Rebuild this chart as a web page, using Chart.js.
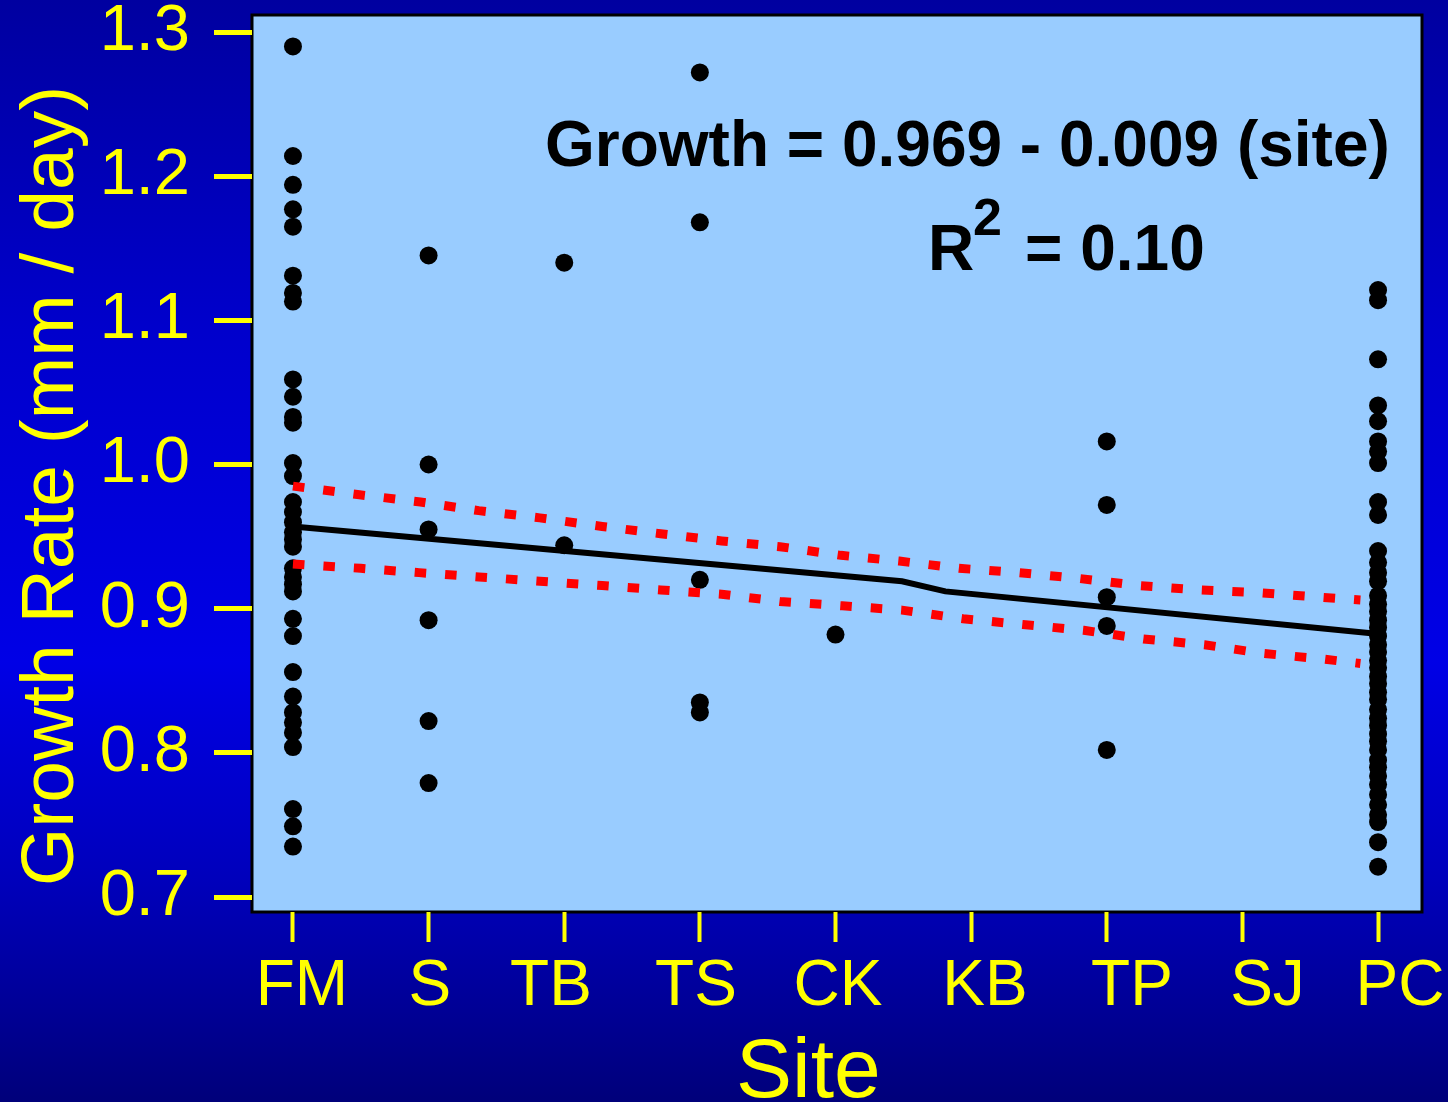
<!DOCTYPE html>
<html>
<head>
<meta charset="utf-8">
<script src="https://cdn.jsdelivr.net/npm/chart.js@4/dist/chart.umd.min.js"></script>
<style>
  body { margin: 0; background: #000090; }
  canvas { display: block; }
</style>
</head>
<body>
<canvas id="growthChart" width="1448" height="1102"></canvas>
<script>
// sites along the x axis, left to right
const sites = ["FM", "S", "TB", "TS", "CK", "KB", "TP", "SJ", "PC"];
const yTicks = [0.7, 0.8, 0.9, 1.0, 1.1, 1.2, 1.3];

// growth rates (mm / day) read per site
const growthFM = [1.290, 1.214, 1.194, 1.177, 1.165, 1.131, 1.119, 1.113, 1.059, 1.047, 1.033, 1.029,
  1.001, 0.992, 0.974, 0.967, 0.960, 0.953, 0.948, 0.943, 0.928, 0.922, 0.917, 0.912,
  0.893, 0.881, 0.856, 0.839, 0.828, 0.821, 0.814, 0.804, 0.761, 0.749, 0.735];
const growthS = [1.145, 1.000, 0.955, 0.892, 0.822, 0.779];
const growthTB = [1.140, 0.944];
const growthTS = [1.272, 1.168, 0.920, 0.835, 0.828];
const growthCK = [0.882];
const growthKB = [];
const growthTP = [1.016, 0.972, 0.908, 0.888, 0.802];
const growthSJ = [];
const growthPC = [1.121, 1.114, 1.073, 1.041, 1.030, 1.016, 1.009, 1.001, 0.974, 0.965, 0.940, 0.932,
  0.925, 0.919, 0.909, 0.903, 0.898, 0.892, 0.887, 0.881, 0.875, 0.870, 0.864, 0.859, 0.853,
  0.848, 0.842, 0.837, 0.830, 0.824, 0.819, 0.813, 0.808, 0.802, 0.795, 0.790, 0.784, 0.778,
  0.771, 0.764, 0.757, 0.752, 0.738, 0.721];

// fitted line and confidence band (x in site units)
const fitX = [0, 4.49, 4.81, 7.95];
const fitY = [0.957, 0.919, 0.912, 0.883];
const upperX = [0, 0.49, 0.94, 1.37, 1.82, 2.28, 2.71, 3.16, 3.59, 4.04, 4.47, 4.91, 5.35, 5.79, 6.24, 6.68, 7.13, 7.57, 7.87];
const upperY = [0.985, 0.979, 0.974, 0.968, 0.963, 0.957, 0.952, 0.947, 0.943, 0.937, 0.933, 0.928, 0.925, 0.921, 0.916, 0.913, 0.911, 0.908, 0.906];
const lowerX = [0, 0.5, 0.93, 1.37, 1.82, 2.28, 2.71, 3.16, 3.59, 4.05, 4.49, 4.94, 5.38, 5.83, 6.27, 6.72, 7.15, 7.6, 7.87];
const lowerY = [0.931, 0.928, 0.925, 0.922, 0.919, 0.916, 0.913, 0.910, 0.905, 0.902, 0.899, 0.893, 0.889, 0.885, 0.879, 0.875, 0.869, 0.865, 0.862];

const equationText = "Growth = 0.969 - 0.009 (site)";

// where the site names sit (slightly off the tick marks, like the slide)
const labelAt = [0.066, 1.009, 1.902, 2.971, 4.018, 5.102, 6.186, 7.185, 8.162];

const FONT = "'Liberation Sans', Arial, sans-serif";
const YELLOW = "#FFFF00";

const allGrowth = [growthFM, growthS, growthTB, growthTS, growthCK, growthKB, growthTP, growthSJ, growthPC];
const points = [];
allGrowth.forEach((arr, i) => arr.forEach(v => points.push({ x: i, y: v })));

const toXY = (xs, ys) => xs.map((x, i) => ({ x: x, y: ys[i] }));

// no label overflow padding, the chart area is placed by hand
const noOverflow = s => {
  s.paddingTop = 0; s.paddingBottom = 0; s.paddingLeft = 0; s.paddingRight = 0;
};

const slideBackground = {
  id: "slideBackground",
  beforeDraw(chart) {
    const { ctx, width, height, chartArea: a } = chart;
    ctx.save();
    const g = ctx.createLinearGradient(0, 0, 0, height);
    g.addColorStop(0, "#0000A0");
    g.addColorStop(0.3, "#0000CC");
    g.addColorStop(0.6, "#0000E6");
    g.addColorStop(0.8, "#0000BB");
    g.addColorStop(1, "#00007A");
    ctx.fillStyle = g;
    ctx.fillRect(0, 0, width, height);
    ctx.fillStyle = "#99CCFF";
    ctx.fillRect(a.left, a.top, a.right - a.left, a.bottom - a.top);
    ctx.lineWidth = 3;
    ctx.strokeStyle = "#000000";
    ctx.strokeRect(a.left, a.top, a.right - a.left, a.bottom - a.top);
    ctx.restore();
  },
  afterDraw(chart) {
    const ctx = chart.ctx;
    ctx.save();
    ctx.fillStyle = YELLOW;
    ctx.textBaseline = "alphabetic";
    ctx.textAlign = "left";
    // y title
    ctx.save();
    ctx.translate(73, 886);
    ctx.rotate(-Math.PI / 2);
    ctx.font = "75px " + FONT;
    ctx.fillText("Growth Rate (mm / day)", 0, 0);
    ctx.restore();
    // x title
    ctx.font = "84px " + FONT;
    ctx.fillText("Site", 736, 1097);
    // regression annotation
    ctx.fillStyle = "#000000";
    ctx.font = "bold 64px " + FONT;
    ctx.fillText(equationText, 545, 166);
    ctx.fillText("R", 928, 270);
    ctx.font = "bold 52px " + FONT;
    ctx.fillText("2", 973, 235);
    ctx.font = "bold 64px " + FONT;
    ctx.fillText("= 0.10", 1025, 270);
    ctx.restore();
  }
};

const chart = new Chart(document.getElementById("growthChart"), {
  type: "scatter",
  data: {
    datasets: [
      {
        label: "upper",
        data: toXY(upperX, upperY),
        showLine: true,
        borderColor: "#FF0000",
        borderWidth: 9,
        borderDash: [11.5, 19],
        borderCapStyle: "butt",
        pointRadius: 0,
        tension: 0
      },
      {
        label: "lower",
        data: toXY(lowerX, lowerY),
        showLine: true,
        borderColor: "#FF0000",
        borderWidth: 9,
        borderDash: [11.5, 19],
        borderCapStyle: "butt",
        pointRadius: 0,
        tension: 0
      },
      {
        label: "fit",
        data: toXY(fitX, fitY),
        showLine: true,
        borderColor: "#000000",
        borderWidth: 6,
        pointRadius: 0,
        tension: 0
      },
      {
        label: "growth",
        data: points,
        backgroundColor: "#000000",
        borderWidth: 0,
        pointRadius: 9
      }
    ]
  },
  options: {
    responsive: false,
    animation: false,
    layout: { padding: { left: 0, right: 26, top: 15, bottom: 0 } },
    plugins: { legend: { display: false }, tooltip: { enabled: false } },
    scales: {
      y: {
        min: 0.6896,
        max: 1.3118,
        afterBuildTicks: s => { s.ticks = yTicks.map(v => ({ value: v })); },
        afterFit: s => { s.width = 252; noOverflow(s); },
        ticks: {
          color: YELLOW,
          font: { family: FONT, size: 65 },
          padding: 24,
          callback: v => v.toFixed(1)
        },
        grid: {
          drawOnChartArea: false,
          tickLength: 38,
          tickWidth: 5,
          tickColor: YELLOW,
          color: YELLOW
        },
        border: { display: false }
      },
      x: {
        type: "linear",
        position: "bottom",
        weight: 0,
        min: -0.302,
        max: 8.324,
        afterBuildTicks: s => { s.ticks = sites.map((n, i) => ({ value: i })); },
        afterFit: s => { s.height = 32; noOverflow(s); },
        ticks: { display: false },
        grid: {
          drawOnChartArea: false,
          tickLength: 30,
          tickWidth: 4,
          tickColor: YELLOW,
          color: YELLOW
        },
        border: { display: false }
      },
      x2: {
        type: "linear",
        position: "bottom",
        weight: 1,
        min: -0.302,
        max: 8.324,
        afterBuildTicks: s => { s.ticks = labelAt.map(v => ({ value: v })); },
        afterFit: s => { s.height = 158; noOverflow(s); },
        ticks: {
          color: YELLOW,
          font: { family: FONT, size: 64 },
          padding: 5,
          maxRotation: 0,
          autoSkip: false,
          callback: (v, i) => sites[i]
        },
        grid: { display: false, drawTicks: false },
        border: { display: false }
      }
    }
  },
  plugins: [slideBackground]
});
</script>
</body>
</html>
